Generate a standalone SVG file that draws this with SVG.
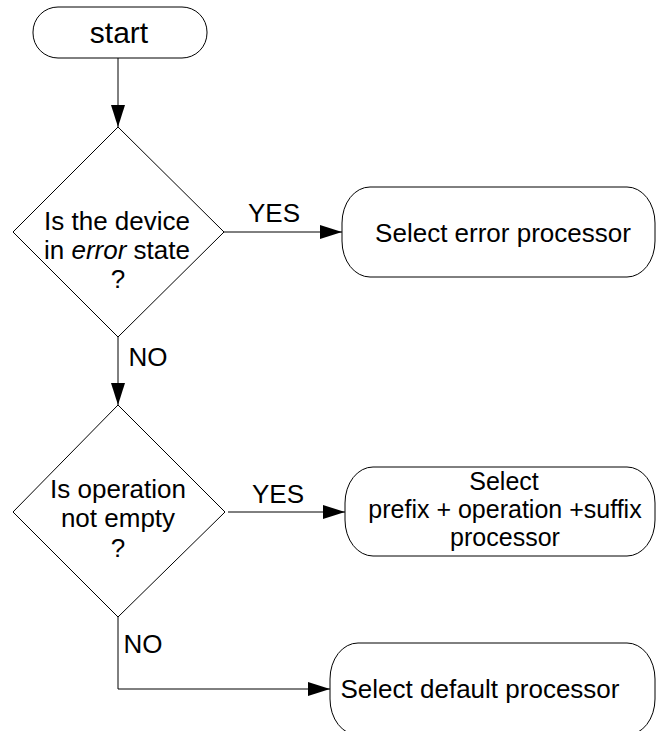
<svg xmlns="http://www.w3.org/2000/svg" width="656" height="731" viewBox="0 0 656 731">
<defs>
<marker id="arr" markerUnits="userSpaceOnUse" markerWidth="22" markerHeight="14" refX="22" refY="7" orient="auto">
<path d="M0,0 L22,7 L0,14 z" fill="#000"/>
</marker>
<style>
text{font-family:"Liberation Sans",Arial,sans-serif;font-size:26px;fill:#000;text-anchor:middle}
.shape{fill:#fff;stroke:#000;stroke-width:1}
.conn{fill:none;stroke:#000;stroke-width:1}
</style>
</defs>
<rect width="656" height="731" fill="#fff"/>
<g id="connectors">
<line class="conn" x1="118" y1="58" x2="118" y2="127" marker-end="url(#arr)"/>
<line class="conn" x1="118" y1="337" x2="118" y2="405" marker-end="url(#arr)"/>
<line class="conn" x1="224" y1="232" x2="342" y2="232" marker-end="url(#arr)"/>
<line class="conn" x1="228" y1="512" x2="345" y2="512" marker-end="url(#arr)"/>
<polyline class="conn" points="118,617 118,689 330,689" marker-end="url(#arr)"/>
<text x="274" y="222">YES</text>
<text x="278" y="503">YES</text>
<text x="148" y="366">NO</text>
<text x="143" y="653">NO</text>
</g>
<g id="start">
<rect class="shape" x="33" y="7" width="174" height="51" rx="25" ry="25"/>
<text x="119" y="43" style="font-size:30px">start</text>
</g>
<g id="decision1">
<polygon class="shape" points="118,127 224,232 118,337 13,232"/>
<text x="117" y="230">Is the device</text>
<text x="117" y="259">in <tspan font-style="italic">error</tspan> state</text>
<text x="118" y="288">?</text>
</g>
<g id="errorProcessor">
<rect class="shape" x="342" y="187" width="313" height="90" rx="28" ry="36"/>
<text x="503" y="242">Select error processor</text>
</g>
<g id="decision2">
<polygon class="shape" points="118,405 225,512 118,617 13,512"/>
<text x="118" y="498">Is operation</text>
<text x="118" y="527">not empty</text>
<text x="118" y="557">?</text>
</g>
<g id="operationProcessor">
<rect class="shape" x="345" y="467" width="310" height="89" rx="28" ry="36"/>
<text x="504" y="490" style="font-size:25px">Select</text>
<text x="505" y="518" style="font-size:25px">prefix + operation +suffix</text>
<text x="505" y="546" style="font-size:25px">processor</text>
</g>
<g id="defaultProcessor">
<rect class="shape" x="330" y="643" width="325" height="92" rx="28" ry="36"/>
<text x="480" y="698">Select default processor</text>
</g>
</svg>
